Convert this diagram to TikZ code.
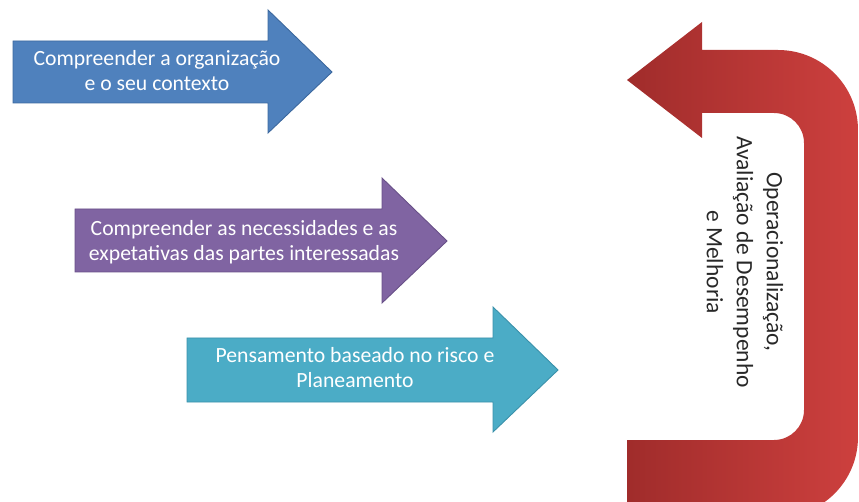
\documentclass[tikz,border=0pt]{standalone}
\usepackage{fontspec}
\setmainfont{Carlito}
\definecolor{blueF}{RGB}{79,129,189}
\definecolor{blueD}{RGB}{60,104,158}
\definecolor{purpF}{RGB}{128,100,162}
\definecolor{purpD}{RGB}{104,80,136}
\definecolor{tealF}{RGB}{75,172,198}
\definecolor{tealD}{RGB}{58,145,170}
\definecolor{redL}{RGB}{160,44,43}
\definecolor{redR}{RGB}{205,64,62}
\definecolor{labelC}{RGB}{40,40,40}
\begin{document}
\begin{tikzpicture}[x=1pt,y=-1pt,
  arrowshape/.style={line width=0.9pt, line join=miter},
  arrowtext/.style={text=white, align=center, inner sep=0pt,
    font=\fontsize{21.7}{25}\selectfont},
  loop text/.style={text=labelC, align=center, inner sep=0pt, rotate=-90,
    font=\fontsize{23.5}{30}\selectfont}]
\useasboundingbox (0,0) rectangle (859,502);
\clip (0,0) rectangle (859,502);
% blue arrow
\filldraw[arrowshape, fill=blueF, draw=blueD]
  (13,41) -- (268,41) -- (268,10) -- (332,72) -- (268,133) -- (268,103) -- (13,103) -- cycle;
\node[arrowtext] (t1) at (157,73) {\strut Compreender a organização\\\strut e o seu contexto};
% purple arrow
\filldraw[arrowshape, fill=purpF, draw=purpD]
  (75,209) -- (382,209) -- (382,178) -- (447,241) -- (382,303) -- (382,272) -- (75,272) -- cycle;
\node[arrowtext] (t2) at (244,243) {\strut Compreender as necessidades e as\\\strut expetativas das partes interessadas};
% teal arrow
\filldraw[arrowshape, fill=tealF, draw=tealD]
  (187,338) -- (493,338) -- (493,307) -- (558,370) -- (493,432) -- (493,402) -- (187,402) -- cycle;
\node[arrowtext] (t3) at (355,370) {\strut Pensamento baseado no risco e\\\strut Planeamento};
% red U-turn arrow
\shade[left color=redL, right color=redR]
  (778,50) .. controls (822.2,50) and (858,85.8) .. (858,130)
  -- (858,437) .. controls (858,481.2) and (822.2,517) .. (778,517)
  -- (627,517) -- (627,440) -- (774,440)
  .. controls (790.6,440) and (804,426.6) .. (804,410)
  -- (804,143) .. controls (804,126.4) and (790.6,113) .. (774,113)
  -- (702,113) -- (702,138) -- (627,80) -- (702,22) -- (702,50) -- cycle;
\node[loop text] (t4) at (745,262) {Operacionalização,\\Avaliação de Desempenho\\e Melhoria};
\end{tikzpicture}
\end{document}
